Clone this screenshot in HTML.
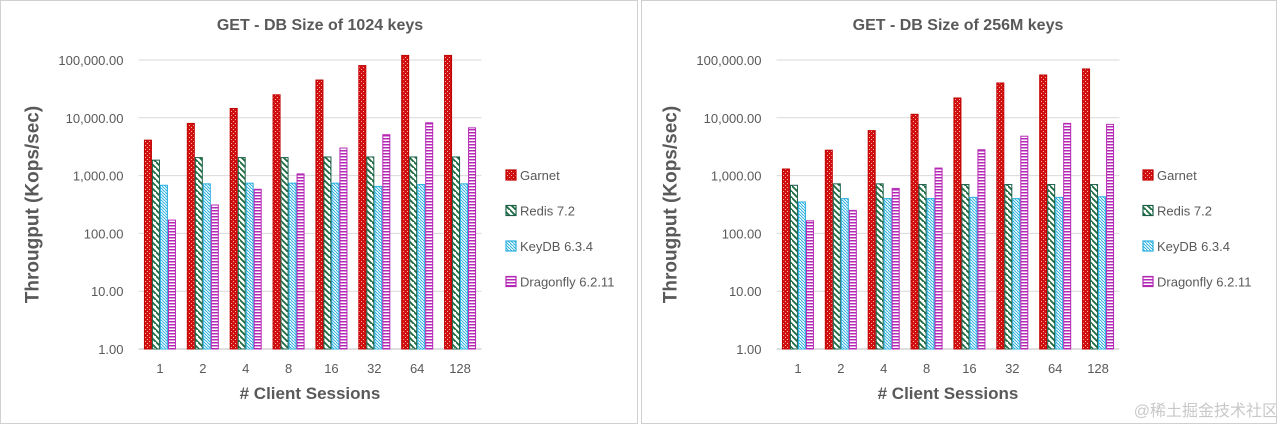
<!DOCTYPE html>
<html><head><meta charset="utf-8"><style>
body{margin:0;background:#fff;width:1280px;height:425px;overflow:hidden;font-family:"Liberation Sans","Noto Sans CJK SC",sans-serif}
svg{display:block}
</style></head><body>
<svg id="svg" width="1280" height="425" xmlns="http://www.w3.org/2000/svg">
<defs>
<pattern id="pG" width="4" height="4" patternUnits="userSpaceOnUse"><rect width="4" height="4" fill="#d10f0f"/><rect x="1" y="1" width="1" height="1" fill="#f6b0b0"/><rect x="3" y="3" width="1" height="1" fill="#f6b0b0"/></pattern>
<pattern id="pR" width="6" height="6" patternUnits="userSpaceOnUse"><rect width="6" height="6" fill="#fff"/><path d="M-1,-1 L7,7 M-4,2 L2,8 M4,-4 L10,2" stroke="#1a6b3c" stroke-width="1.8"/></pattern>
<pattern id="pK" width="3" height="3" patternUnits="userSpaceOnUse"><rect width="3" height="3" fill="#fff"/><path d="M-1,-1 L4,4 M-2,1 L1,4 M2,-2 L5,1" stroke="#2bb0e0" stroke-width="1"/></pattern>
<pattern id="pD" width="4" height="3" patternUnits="userSpaceOnUse"><rect width="4" height="3" fill="#fff"/><rect y="0" width="4" height="1.5" fill="#b528b5"/></pattern>
</defs>
<rect x="0.5" y="0.5" width="637" height="423" fill="#fff" stroke="#d0d0d0"/>
<rect x="641.5" y="0.5" width="635" height="423" fill="#fff" stroke="#d0d0d0"/>
<text x="1278" y="416" text-anchor="end" font-size="16" fill="#c8c8c8">@稀土掘金技术社区</text>
</svg>
<script>
const categories=["1","2","4","8","16","32","64","128"];
const seriesNames=["Garnet","Redis 7.2","KeyDB 6.3.4","Dragonfly 6.2.11"];
const yTicks=[1,10,100,1000,10000,100000];
const yTickLabels=["1.00","10.00","100.00","1,000.00","10,000.00","100,000.00"];
const leftGarnet=[4100,8000,14500,25000,45000,80000,120000,120000];
const leftRedis=[1850,2050,2050,2050,2100,2100,2100,2100];
const leftKeyDB=[680,720,740,740,740,650,700,720];
const leftDragonfly=[170,310,580,1070,3000,5100,8200,6700];
const rightGarnet=[1300,2750,6000,11500,22000,40000,55000,70000];
const rightRedis=[680,720,720,700,700,700,700,700];
const rightKeyDB=[350,400,400,400,420,400,420,430];
const rightDragonfly=[165,250,600,1350,2800,4800,8000,7700];
const fills=["url(#pG)","url(#pR)","url(#pK)","url(#pD)"];
const strokes=["#c00000","#1a5e4a","#2bb0e0","#b528b5"];
const NS="http://www.w3.org/2000/svg";
const svg=document.getElementById('svg');
function mk(tag,attrs,parent,txt){const e=document.createElementNS(NS,tag);for(const k in attrs)e.setAttribute(k,attrs[k]);if(txt!==undefined)e.textContent=txt;(parent||svg).appendChild(e);return e;}
function chart(x0,x1,title,series,prefix,lx){
  const yTop=60,yBot=349;
  const ys=v=>yBot-(Math.log10(Math.max(v,1))/5)*(yBot-yTop);
  const g=mk('g',{});
  
  
  const t=mk('text',{x:(x0+x1)/2+10,y:30,'text-anchor':'middle','font-size':16,'font-weight':'bold',fill:'#595959'},g,title);
  
  
  yTicks.forEach((v,i)=>{
    const y=ys(v);
    const l=mk('line',{x1:x0,x2:x1,y1:y,y2:y,stroke:i==0?'#bfbfbf':'#d9d9d9','stroke-width':1},g);
    
    
    const tl=mk('text',{x:x0-15,y:y+5,'text-anchor':'end','font-size':13,fill:'#595959'},g,yTickLabels[i]);
    
    
  });
  const cw=(x1-x0)/categories.length,bw=8,gw=bw*4;
  categories.forEach((c,ci)=>{
    const cx=x0+cw*(ci+0.5);
    series.forEach((s,si)=>{
      const y=Math.max(ys(s[ci]),yTop-6);
      const r=mk('rect',{x:cx-gw/2+si*bw+0.5,y:y,width:bw-1,height:yBot-y,fill:fills[si],stroke:strokes[si],'stroke-width':1},g);
      
      
    });
    const xl=mk('text',{x:cx,y:373,'text-anchor':'middle','font-size':13,fill:'#595959'},g,c);
    
    
  });
  const xt=mk('text',{x:(x0+x1)/2,y:399,'text-anchor':'middle','font-size':17,'font-weight':'bold',fill:'#595959'},g,'# Client Sessions');
  
  
  const yc=(yTop+yBot)/2;
  const yt=mk('text',{x:x0-100,y:yc,'text-anchor':'middle','font-size':19,'font-weight':'bold',fill:'#595959',transform:`rotate(-90 ${x0-100} ${yc})`},g,'Througput  (Kops/sec)');
  
  
  seriesNames.forEach((n,i)=>{
    const ly=176+i*35.5;
    const e=mk('g',{},g);
    
    
    mk('rect',{x:lx,y:ly-6,width:10,height:10,fill:fills[i],stroke:strokes[i],'stroke-width':1.2},e);
    mk('text',{x:lx+14,y:ly+4,'font-size':13,fill:'#595959'},e,n);
  });
}
chart(138.5,481.5,'GET - DB Size of 1024 keys',[leftGarnet,leftRedis,leftKeyDB,leftDragonfly],'left',506);
chart(776.5,1119.5,'GET - DB Size of 256M keys',[rightGarnet,rightRedis,rightKeyDB,rightDragonfly],'right',1143);
</script>
</body></html>
